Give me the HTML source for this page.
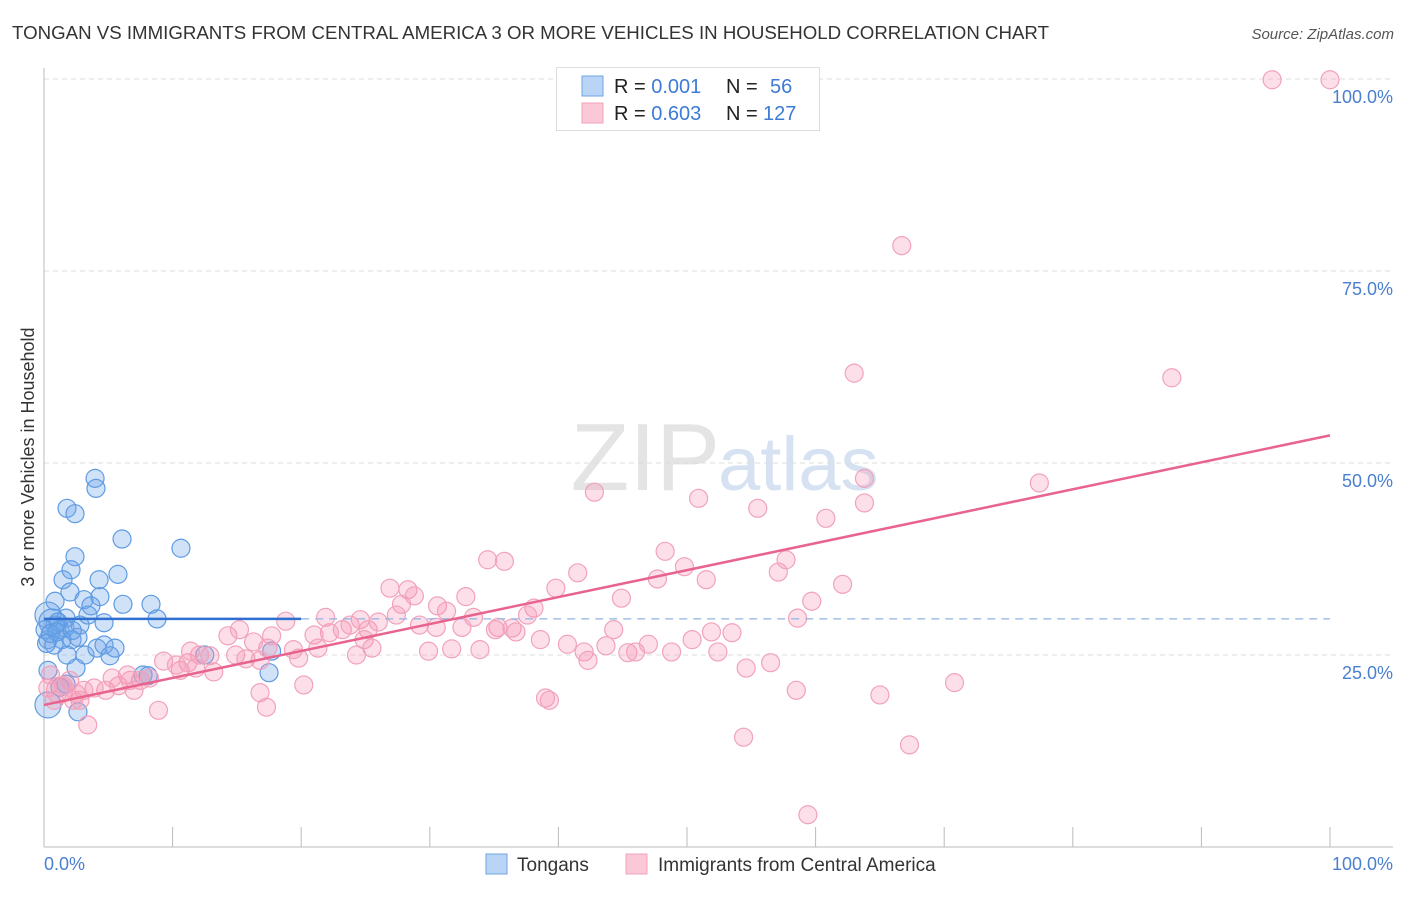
<!DOCTYPE html>
<html><head><meta charset="utf-8"><style>
body{margin:0;background:#fff;font-family:"Liberation Sans",sans-serif;}
svg text{font-family:"Liberation Sans",sans-serif;}
</style></head><body>
<svg id="chart" width="1406" height="892">
<text x="12" y="39" font-size="18" fill="#333" textLength="1037" lengthAdjust="spacingAndGlyphs">TONGAN VS IMMIGRANTS FROM CENTRAL AMERICA 3 OR MORE VEHICLES IN HOUSEHOLD CORRELATION CHART</text>
<text x="1394" y="39" font-size="15" fill="#555" text-anchor="end" font-style="italic">Source: ZipAtlas.com</text>
<text x="720" y="490" font-size="96" fill="#e4e4e4" text-anchor="end" font-family="Liberation Serif">ZIP</text>
<text x="718" y="490" font-size="76" fill="#d6e2f2">atlas</text>
<g id="grid"></g><g id="axes"></g><g id="pts"></g><g id="trend"></g>
<text transform="translate(34,457) rotate(-90)" font-size="18" fill="#333" text-anchor="middle">3 or more Vehicles in Household</text>
<text x="44" y="870" font-size="18" fill="#4a7fd0">0.0%</text>
<text x="1393" y="870" font-size="18" fill="#4a7fd0" text-anchor="end">100.0%</text>
<g>
<rect x="556.5" y="67.5" width="263" height="63" fill="#fff" stroke="#ddd"/>
<rect x="582" y="76" width="21" height="20" fill="#b9d4f5" stroke="#6fa3e4"/>
<rect x="582" y="103" width="21" height="20" fill="#fbc8d7" stroke="#f1a3bb"/>
<text x="614" y="93" font-size="20" fill="#222">R = <tspan fill="#3d7bd6">0.001</tspan><tspan x="726">N = </tspan><tspan x="770" fill="#3d7bd6">56</tspan></text>
<text x="614" y="120" font-size="20" fill="#222">R = <tspan fill="#3d7bd6">0.603</tspan><tspan x="726">N = </tspan><tspan x="763" fill="#3d7bd6">127</tspan></text>
</g>
<g>
<rect x="486" y="854" width="21" height="20" fill="#b9d4f5" stroke="#6fa3e4"/>
<text x="517" y="871" font-size="19" fill="#333">Tongans</text>
<rect x="626" y="854" width="21" height="20" fill="#fbc8d7" stroke="#f1a3bb"/>
<text x="658" y="871" font-size="19" fill="#333">Immigrants from Central America</text>
</g>
</svg>
<script>
const yTicks=[25,50,75,100];
const yTickLabels=["25.0%","50.0%","75.0%","100.0%"];
const xTicks=[0,10,20,30,40,50,60,70,80,90,100];
const blueX=[3.97,4.04,1.79,2.41,6.07,10.65,2.41,1.48,2.1,4.28,5.75,0.86,2.02,3.11,3.65,4.35,6.14,8.32,8.79,1.71,4.67,0.31,0.86,1.24,1.63,0.31,0.78,2.18,2.64,3.19,4.12,4.67,5.13,5.52,2.49,7.7,17.5,17.7,1.24,0.31,2.64,0.31,0.62,1.09,0.08,2.8,1.4,1.79,12.5,8.1,1.71,3.42,0.5,1.0,2.2,0.2];
const blueY=[48.0,46.7,44.1,43.4,40.1,38.9,37.8,34.8,36.1,34.8,35.5,32.0,33.2,32.2,31.4,32.6,31.6,31.6,29.7,29.8,29.2,30.2,28.9,28.3,28.5,27.0,26.3,27.0,27.3,25.0,25.9,26.3,24.9,25.9,23.3,22.4,22.7,25.5,20.8,18.5,17.6,23.0,29.3,29.3,28.3,28.9,27.0,25.0,25.0,22.3,21.2,30.2,27.8,28.0,28.2,26.5];
const pinkX=[95.5,100,66.7,63.0,87.7,77.4,63.8,63.8,60.8,55.5,50.9,42.8,48.3,49.8,51.5,57.1,57.7,47.7,62.1,59.7,58.6,44.9,41.5,39.8,34.5,35.8,32.8,30.6,31.3,26.9,28.3,28.8,27.8,27.4,29.2,30.5,32.5,33.4,35.3,36.4,36.7,38.1,37.6,23.2,22.2,21.9,18.8,23.8,24.6,25.2,26.0,24.9,24.3,25.5,21.0,21.3,19.8,19.4,17.7,17.4,16.3,14.9,15.7,14.3,15.2,12.9,12.1,11.2,9.3,10.6,8.2,7.5,6.5,5.8,4.8,3.9,3.1,2.0,1.2,0.5,0.8,2.8,0.3,3.4,8.9,16.8,16.8,17.3,20.2,29.9,31.7,33.9,35.1,38.6,39.0,39.3,40.7,42.0,42.3,43.7,44.3,45.4,46.0,47.0,48.8,50.4,51.9,52.4,53.5,54.6,56.5,58.5,54.4,59.4,65.0,67.3,70.8,13.2,11.8,6.7,5.3,2.3,11.4,10.3,7.0,1.5,2.5];
const pinkY=[99.9,99.9,78.3,61.7,61.1,47.4,48.0,44.8,42.8,44.1,45.4,46.2,38.5,36.5,34.8,35.8,37.4,34.9,34.2,32.0,29.8,32.4,35.7,33.7,37.4,37.2,32.6,31.4,30.7,33.7,33.5,32.7,31.6,30.2,28.9,28.6,28.6,29.9,28.6,28.5,28.0,31.1,30.2,28.3,27.9,29.9,29.4,28.9,29.6,28.3,29.3,27.0,25.0,25.9,27.6,25.9,24.6,25.7,27.5,25.9,26.7,25.0,24.5,27.5,28.3,24.9,25.0,24.0,24.2,23.0,22.0,21.7,22.4,21.0,20.4,20.7,20.4,21.7,20.4,22.4,19.1,19.1,20.7,15.9,17.8,24.3,20.1,18.2,21.1,25.5,25.8,25.7,28.3,27.0,19.4,19.1,26.4,25.4,24.3,26.2,28.3,25.3,25.4,26.4,25.4,27.0,28.0,25.4,27.9,23.3,24.0,20.4,14.3,4.2,19.8,13.3,21.4,22.8,23.3,21.7,22.0,19.1,25.5,23.7,20.4,21.0,20.0];
const blueTrend=[29.7,29.7];
const pinkTrend=[18.5,53.6];
const NS="http://www.w3.org/2000/svg";
const X0=44,X1=1330,Y0=847,Y100=79;
function xs(v){return X0+(X1-X0)*v/100;}
function ys(v){return Y0-(Y0-Y100)*v/100;}
function mk(tag,attrs,parent){const e=document.createElementNS(NS,tag);for(const k in attrs)e.setAttribute(k,attrs[k]);parent.appendChild(e);return e;}
const grid=document.getElementById('grid'),axes=document.getElementById('axes'),pts=document.getElementById('pts'),trend=document.getElementById('trend');
yTicks.forEach((t,i)=>{
 const l=mk('line',{x1:X0,x2:1393,y1:ys(t),y2:ys(t),stroke:'#ddd','stroke-dasharray':'5,4'},grid);
 
 
 const tx=mk('text',{x:1393,y:ys(t)+24,'font-size':18,fill:'#4a7fd0','text-anchor':'end'},axes);
 tx.textContent=yTickLabels[i];
 
 
});
const ax=mk('line',{x1:X0,x2:X0,y1:68,y2:Y0,stroke:'#bbb'},axes);


const bx=mk('line',{x1:X0,x2:1393,y1:Y0,y2:Y0,stroke:'#bbb'},axes);


xTicks.forEach(t=>{
 const l=mk('line',{x1:xs(t),x2:xs(t),y1:Y0-20,y2:Y0,stroke:'#bbb'},axes);
 
 
});
function dots(xa,ya,fill,stroke,name){
 xa.forEach((x,i)=>{
  const big=x<1.5&&i%3===0;
  const c=mk('circle',{cx:xs(x),cy:ys(ya[i]),r:big?13:9,fill:fill,stroke:stroke,'stroke-width':1.2},pts);
  
  
 });
}
dots(blueX,blueY,'rgba(110,165,232,0.32)','#5f9be2','tongan-point');
dots(pinkX,pinkY,'rgba(244,150,180,0.3)','#f2a2bb','immigrant-point');
const b1=mk('line',{x1:xs(0),x2:xs(20),y1:ys(blueTrend[0]),y2:ys(blueTrend[0]+(blueTrend[1]-blueTrend[0])*0.2),stroke:'#2f6fd0','stroke-width':2.5},trend);


const b2=mk('line',{x1:xs(20),x2:xs(100),y1:ys(blueTrend[0]+(blueTrend[1]-blueTrend[0])*0.2),y2:ys(blueTrend[1]),stroke:'#8fb4e6','stroke-width':1.3,'stroke-dasharray':'8,6'},trend);


const p1=mk('line',{x1:xs(0),x2:xs(100),y1:ys(pinkTrend[0]),y2:ys(pinkTrend[1]),stroke:'#e8648f','stroke-width':2.5},trend);


</script>
</body></html>
